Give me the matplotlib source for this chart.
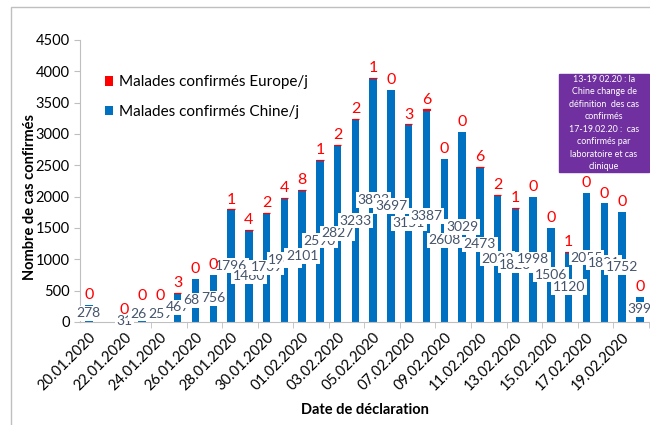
import numpy as np
import pandas as pd
import matplotlib
matplotlib.use('Agg')
import matplotlib.pyplot as plt
import matplotlib.transforms as mtrans
from matplotlib.patches import Rectangle

plt.rcParams.update({'font.family': ['Lato', 'DejaVu Sans'], 'font.size': 10})

# daily values, 20.01.2020 -> 20.02.2020 (21.01 has no data)
dates = pd.date_range('2020-01-20', '2020-02-20').strftime('%d.%m.%Y').tolist()
chine = [278, np.nan, 31, 262, 259, 467, 688, 756, 1796, 1460, 1739, 1982, 2101, 2590,
         2827, 3233, 3893, 3697, 3151, 3387, 2608, 3029, 2473, 2022, 1823, 1998, 1506,
         1120, 2055, 1891, 1752, 399]
europe = [0, np.nan, 0, 0, 0, 3, 0, 0, 1, 4, 2, 4, 8, 1, 2, 2, 1, 0, 3, 6, 0, 0, 6, 2,
          1, 0, 0, 1, 0, 0, 0, 0]
note = ("13-19 02.20 : la\nChine change de\ndéfinition  des cas\nconfirmés\n"
        "17-19.02.20 :  cas\nconfirmés par\nlaboratoire et cas\nclinique")

chine = np.array(chine, dtype=float)
europe = np.array(europe, dtype=float)
x = np.arange(len(dates))
ok = ~np.isnan(chine)

fig = plt.figure(figsize=(6.5, 4.25), dpi=100)
ax = fig.add_axes([0.123, 0.2424, 0.875, 0.6636])

blue, red = '#0070C0', '#FF0000'
b_cn = ax.bar(x[ok], chine[ok], width=0.42, color=blue, zorder=2)
b_eu = ax.bar(x[ok], europe[ok], width=0.42, bottom=chine[ok], color=red,
              edgecolor=red, linewidth=[0.9 if v > 0 else 0 for v in europe[ok]], zorder=2)

# labels: China value in the middle of the bar, Europe value above the stack
for xi, c in zip(x[ok], chine[ok]):
    ax.text(xi, c / 2, f'{int(c)}', ha='center', va='center', color='#44546A', fontsize=10,
            bbox=dict(boxstyle='square,pad=0.12', fc='white', ec='none'), zorder=3)
for xi, c, e in zip(x[ok], chine[ok], europe[ok]):
    ax.annotate(f'{int(e)}', (xi, c + e), xytext=(0, 2), textcoords='offset points',
                ha='center', va='bottom', color=red, fontsize=11.5, zorder=4)

ax.set_xlim(-0.5, len(dates) - 0.5)
ax.set_ylim(0, 4500)
ax.set_yticks(np.arange(0, 4501, 500))
ax.set_xticks(x[::2])
ax.set_xticklabels(dates[::2], rotation=45, ha='right', rotation_mode='anchor', fontsize=10.5)
shift = mtrans.ScaledTranslation(0.10, -0.05, fig.dpi_scale_trans)
for lab in ax.get_xticklabels():
    lab.set_transform(lab.get_transform() + shift)
ax.set_xticks(np.arange(1.5, len(dates), 2), minor=True)
ax.tick_params(axis='x', which='major', length=0, pad=6)
ax.tick_params(axis='x', which='minor', length=4, color='#BFBFBF')
ax.tick_params(axis='y', length=4, color='#BFBFBF', labelsize=10.5)
for s in ['top', 'right']:
    ax.spines[s].set_visible(False)
for s in ['left', 'bottom']:
    ax.spines[s].set_color('#BFBFBF')

ax.set_ylabel('Nombre de cas confirmés', fontweight='bold', fontsize=10.5)
ax.yaxis.set_label_coords(-0.075, 0.443)
fig.text(0.562, 0.035, 'Date de déclaration', ha='center', va='center',
         fontweight='bold', fontsize=10.5)

ax.legend([b_eu, b_cn], ['Malades confirmés Europe/j', 'Malades confirmés Chine/j'],
          loc='upper left', bbox_to_anchor=(0.14, 0.855), bbox_transform=fig.transFigure,
          frameon=False, handlelength=0.55, handleheight=0.55, handletextpad=0.4,
          labelspacing=1.0, fontsize=11)

# purple note box
fig.patches.append(Rectangle((559 / 650, 1 - 172 / 425), 90 / 650, 98 / 425,
                             transform=fig.transFigure, fc='#7030A0', ec='#7030A0', zorder=5))
fig.text(604 / 650, 1 - 123 / 425, note, ha='center', va='center', color='white',
         fontsize=6.4, linespacing=1.5, zorder=6)

# outer chart frame
fig.patches.append(Rectangle((11 / 650, -0.1), 1.2, 1.1 - 7 / 425, transform=fig.transFigure,
                             fill=False, ec='#BFBFBF', lw=1))

fig.savefig('out.png', dpi=100)
